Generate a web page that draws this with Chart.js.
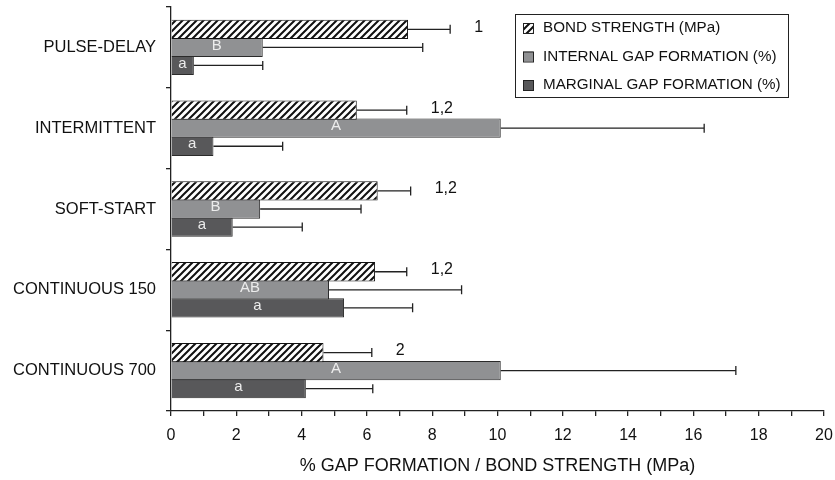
<!DOCTYPE html>
<html>
<head>
<meta charset="utf-8">
<script src="https://cdn.jsdelivr.net/npm/chart.js@4.4.1/dist/chart.umd.min.js"></script>
<style>
html,body{margin:0;padding:0;background:#fff;}
#wrap{width:835px;height:480px;position:relative;}
</style>
</head>
<body>
<div id="wrap"><canvas id="c" width="835" height="480"></canvas></div>
<script>
const categories = ['PULSE-DELAY', 'INTERMITTENT', 'SOFT-START', 'CONTINUOUS 150', 'CONTINUOUS 700'];
const seriesNames = ['BOND STRENGTH (MPa)', 'INTERNAL GAP FORMATION (%)', 'MARGINAL GAP FORMATION (%)'];
const bondStrength = [7.26, 5.69, 6.33, 6.25, 4.67];
const bondSD = [1.29, 1.53, 1.01, 0.97, 1.48];
const internalGap = [2.81, 10.10, 2.73, 4.84, 10.10];
const internalSD = [4.90, 6.23, 3.09, 4.06, 7.20];
const marginalGap = [0.70, 1.30, 1.89, 5.30, 4.13];
const marginalSD = [2.11, 2.12, 2.13, 2.10, 2.05];
const bondLetters = ['1', '1,2', '1,2', '1,2', '2'];
const internalLetters = ['B', 'A', 'B', 'AB', 'A'];
const marginalLetters = ['a', 'a', 'a', 'a', 'a'];
const xTicks = [0, 2, 4, 6, 8, 10, 12, 14, 16, 18, 20];
const xTitle = '% GAP FORMATION / BOND STRENGTH (MPa)';

const FONT = 'Arial, "Liberation Sans", sans-serif';

function hatch() {
  const s = 7;
  const c = document.createElement('canvas');
  c.width = s; c.height = s;
  const g = c.getContext('2d');
  g.fillStyle = '#fff';
  g.fillRect(0, 0, s, s);
  g.strokeStyle = '#111';
  g.lineWidth = 2;
  g.beginPath();
  g.moveTo(-1, s + 1); g.lineTo(s + 1, -1);
  g.moveTo(-1 - s, s + 1); g.lineTo(1, -1);
  g.moveTo(s - 1, s + 1); g.lineTo(2 * s + 1, -1);
  g.stroke();
  return document.getElementById('c').getContext('2d').createPattern(c, 'repeat');
}
const hatchPattern = hatch();

const errors = [bondSD, internalSD, marginalSD];
const letters = [bondLetters, internalLetters, marginalLetters];
const fills = [hatchPattern, '#909193', '#58585a'];

const extras = {
  id: 'extras',
  afterDatasetsDraw(chart) {
    const ctx = chart.ctx;
    const xs = chart.scales.x;
    ctx.save();
    chart.data.datasets.forEach((ds, di) => {
      const meta = chart.getDatasetMeta(di);
      meta.data.forEach((bar, i) => {
        const v = ds.data[i];
        const xEnd = xs.getPixelForValue(v + errors[di][i]);
        const x0 = xs.getPixelForValue(v);
        const y = bar.y;
        ctx.strokeStyle = '#222';
        ctx.lineWidth = 1.3;
        ctx.beginPath();
        ctx.moveTo(x0, y); ctx.lineTo(xEnd, y);
        ctx.moveTo(xEnd, y - 4.5); ctx.lineTo(xEnd, y + 4.5);
        ctx.stroke();
        if (di === 0) {
          ctx.fillStyle = '#111';
          ctx.font = '16px ' + FONT;
          ctx.textAlign = 'left';
          ctx.textBaseline = 'middle';
          ctx.fillText(letters[0][i], xEnd + 24, y - 2);
        } else {
          ctx.fillStyle = '#ececec';
          ctx.font = '15px ' + FONT;
          ctx.textAlign = 'center';
          ctx.textBaseline = 'middle';
          ctx.fillText(letters[di][i], xs.getPixelForValue(v / 2), y - 2);
        }
      });
    });
    // legend
    const bx = 515, by = 14, bw = 273, bh = 83;
    ctx.fillStyle = '#fff';
    ctx.fillRect(bx, by, bw, bh);
    ctx.strokeStyle = '#222';
    ctx.lineWidth = 1;
    ctx.strokeRect(bx + 0.5, by + 0.5, bw, bh);
    const rows = [28, 56.5, 85];
    seriesNames.forEach((name, k) => {
      const yy = rows[k];
      ctx.fillStyle = fills[k];
      ctx.fillRect(523, yy - 5, 10, 10);
      ctx.strokeStyle = '#222';
      ctx.strokeRect(523.5, yy - 4.5, 10, 10);
      ctx.fillStyle = '#111';
      ctx.font = '15.2px ' + FONT;
      ctx.textAlign = 'left';
      ctx.textBaseline = 'middle';
      ctx.fillText(name, 543, yy);
    });
    ctx.restore();
  }
};

new Chart(document.getElementById('c'), {
  type: 'bar',
  data: {
    labels: categories,
    datasets: [
      { label: seriesNames[0], data: bondStrength, backgroundColor: hatchPattern, borderColor: '#111', borderWidth: 1 },
      { label: seriesNames[1], data: internalGap, backgroundColor: '#909193', borderColor: '#2a2a2a', borderWidth: 1 },
      { label: seriesNames[2], data: marginalGap, backgroundColor: '#58585a', borderColor: '#2a2a2a', borderWidth: 1 }
    ]
  },
  options: {
    indexAxis: 'y',
    responsive: false,
    animation: false,
    devicePixelRatio: 1,
    layout: { padding: { left: 0, top: 7, right: 11, bottom: 0 } },
    plugins: { legend: { display: false }, tooltip: { enabled: false } },
    datasets: { bar: { categoryPercentage: 0.67, barPercentage: 1.07 } },
    scales: {
      x: {
        min: 0, max: 20,
        afterFit(s) { s.height = 69; s.paddingLeft = 0; s.paddingRight = 0; },
        afterBuildTicks(s) {
          const t = [];
          for (let v = 0; v <= 20; v++) t.push({ value: v });
          s.ticks = t;
        },
        ticks: {
          autoSkip: false,
          maxRotation: 0,
          padding: 10,
          color: '#111',
          font: { family: FONT, size: 16 },
          callback: (v) => xTicks.includes(v) ? String(v) : ''
        },
        grid: { drawOnChartArea: false, tickLength: 5, color: '#222', lineWidth: 1.3 },
        border: { display: true, color: '#222', width: 1.3 },
        title: { display: true, text: xTitle, color: '#111', font: { family: FONT, size: 18 }, padding: { top: 0, bottom: 3 } }
      },
      y: {
        afterFit(s) { s.width = 171; s.paddingTop = 0; s.paddingBottom = 0; },
        ticks: { padding: 10, color: '#111', font: { family: FONT, size: 16.5 } },
        grid: { drawOnChartArea: false, tickLength: 5, color: '#222', lineWidth: 1.3, offset: true },
        border: { display: true, color: '#222', width: 1.3 }
      }
    }
  },
  plugins: [extras]
});
</script>
</body>
</html>
